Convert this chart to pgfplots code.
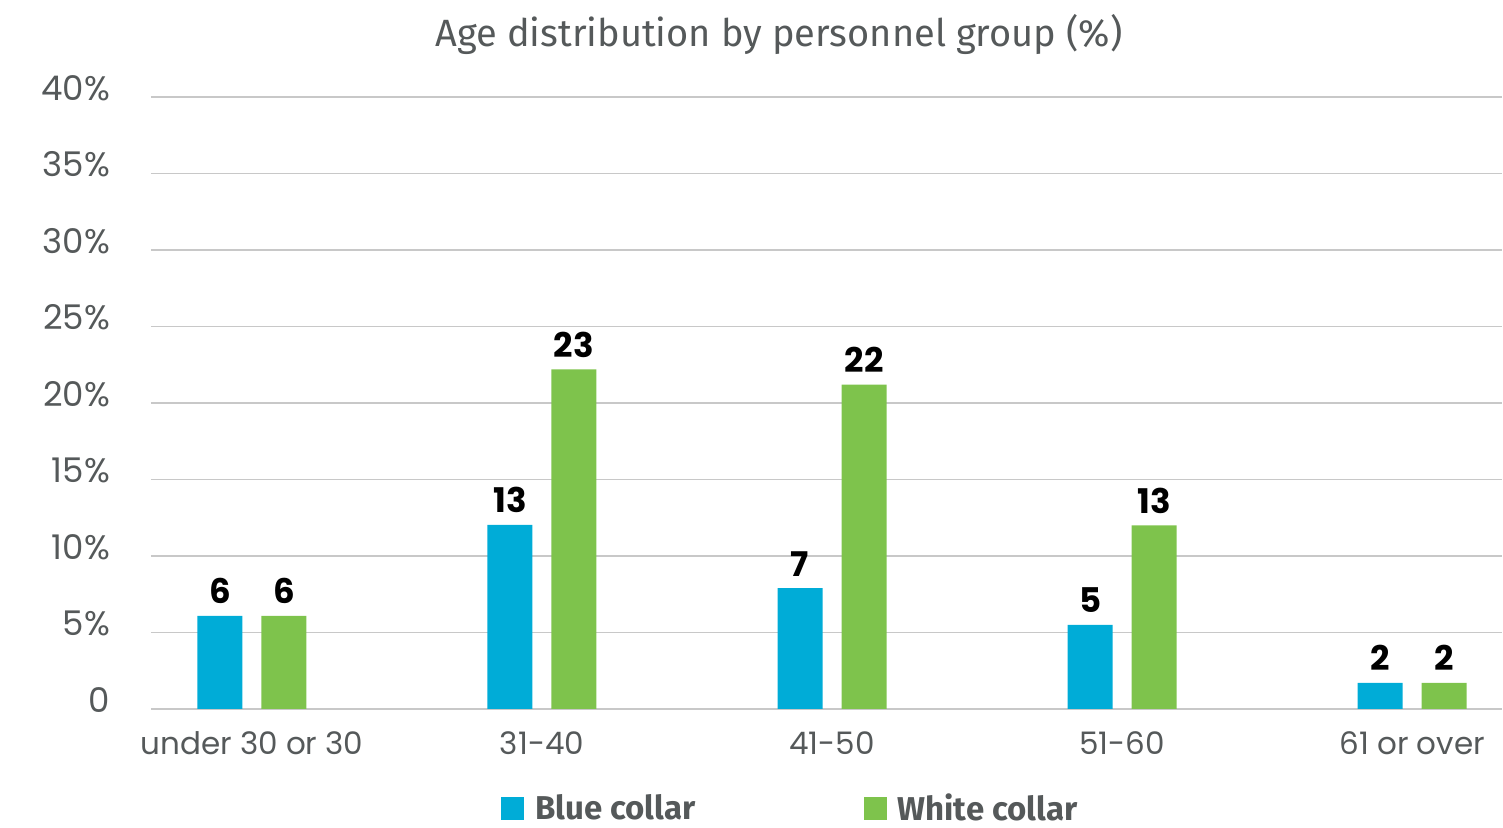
\documentclass[border=0pt]{standalone}
\usepackage{pgfplots}
\pgfplotsset{compat=1.18}
\usepackage{fontspec}
\setmainfont{Poppins}
\newfontfamily\titlefont{Fira Sans}
\definecolor{txtgray}{HTML}{55595A}
\definecolor{bluec}{HTML}{00ACD7}
\definecolor{greenc}{HTML}{7EC34C}
\definecolor{gridc}{HTML}{C8C8C8}

\begin{document}
\begin{tikzpicture}
  \begin{axis}[
      scale only axis,
      width=675.5pt,
      height=306pt,
      ybar,
      bar width=22.5pt,
      xmin=-0.348, xmax=4.31,
      ymin=0, ymax=40,
      xtick={0,1,2,3,4},
      xticklabels={under 30 or 30,31-40,41-50,51-60,61 or over},
      ytick={0,5,10,15,20,25,30,35,40},
      yticklabels={0,5\%,10\%,15\%,20\%,25\%,30\%,35\%,40\%},
      major tick length=0pt,
      axis line style={draw=none},
      ymajorgrids,
      grid style={gridc, line width=0.8pt},
      tick label style={text=txtgray},
      yticklabel style={font=\fontsize{17}{18}\selectfont, anchor=east, xshift=-17pt, yshift=4.5pt},
      xticklabel style={font=\fontsize{15.5}{17}\selectfont, anchor=base, yshift=-23pt},
      nodes near coords,
      point meta=explicit symbolic,
      every node near coord/.append style={font=\fontsize{17}{18}\bfseries\selectfont, text=black, anchor=south, yshift=2.5pt},
      legend columns=2,
      legend style={draw=none, fill=none, at={(0.474,-0.162)}, anchor=center,
        font=\titlefont\fontsize{16.5}{18}\bfseries\selectfont, text=txtgray,
        /tikz/every odd column/.append style={column sep=3.5pt},
        /tikz/every even column/.append style={column sep=82pt}},
      legend image code/.code={\fill[#1] (0pt,-5.75pt) rectangle (11.5pt,5.75pt);},
    ]
    \addplot[fill=bluec, draw=none, bar shift=-16pt] coordinates {
      (0,6.08) [6]
      (1,12.03) [13]
      (2,7.9) [7]
      (3,5.5) [5]
      (4,1.7) [2]
    };
    \addlegendentry{Blue collar}
    \addplot[fill=greenc, draw=none, bar shift=16pt] coordinates {
      (0,6.08) [6]
      (1,22.2) [23]
      (2,21.2) [22]
      (3,12.0) [13]
      (4,1.7) [2]
    };
    \addlegendentry{White collar}
  \end{axis}
  \node[text=txtgray, font=\titlefont\fontsize{19}{22}\selectfont] at (314pt,337pt) {Age distribution by personnel group (\%)};
  \pgfresetboundingbox
  \path (-75.5pt,-59.5pt) rectangle (676pt,354.5pt);
\end{tikzpicture}
\end{document}
